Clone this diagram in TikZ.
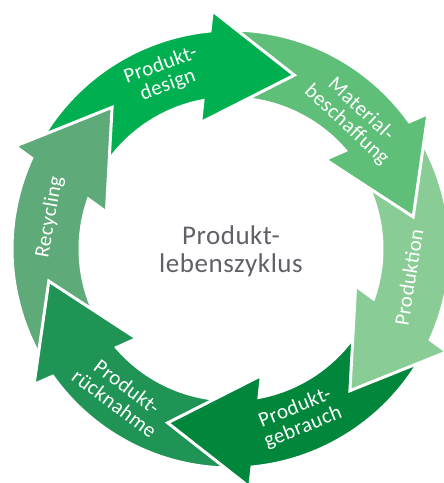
\documentclass[tikz,border=0pt]{standalone}
\usepackage{fontspec}
\setmainfont{Carlito}
\newfontfamily\lblfont[LetterSpace=2]{Carlito}
\definecolor{cA}{HTML}{00B050}
\definecolor{cB}{HTML}{5FBF78}
\definecolor{cC}{HTML}{8ACC96}
\definecolor{cD}{HTML}{00873C}
\definecolor{cE}{HTML}{1F9455}
\definecolor{cF}{HTML}{5EAA78}
\definecolor{titlegray}{HTML}{606068}
\newcommand\cycarrow[1]{({#1+80}:219) arc[start angle={#1+80}, end angle={#1+25.5}, radius=219] -- ({#1+24.5}:239) -- (#1:185) -- ({#1+33.5}:130) -- ({#1+30.7}:151) arc[start angle={#1+30.7}, end angle={#1+85}, radius=151] -- cycle}
\begin{document}
\begin{tikzpicture}[x=1pt,y=1pt,
  arr/.style={draw=white, line width=3pt, line join=miter},
  lbl/.style={text=white, font=\lblfont\fontsize{21}{21}\selectfont, align=center, inner sep=0pt},
  ttl/.style={text=titlegray, font=\lblfont\fontsize{27}{28}\selectfont, align=center, inner sep=0pt}]
\useasboundingbox (0,0) rectangle (444,-483);
\clip (0,0) rectangle (444,-483);
\begin{scope}[shift={(231,-249)}]
  \path[fill=cF, arr] \cycarrow{130};
  \path[fill=cE, arr] \cycarrow{-170};
  \path[fill=cD, arr] \cycarrow{-110};
  \path[fill=cC, arr] \cycarrow{-50};
  \path[fill=cB, arr] \cycarrow{10};
  \path[fill=cA, arr] \cycarrow{70};
  \begin{scope}
    \clip (0,0) -- (172:400) arc[start angle=172, end angle=122, radius=400] -- cycle;
    \path[fill=cF, arr] \cycarrow{130};
  \end{scope}
  \node[lbl, rotate=20] (l1) at (111:186) {Produkt-\\design};
  \node[lbl, rotate=-43] (l2) at (47:180) {Material-\\beschaffung};
  \node[lbl, rotate=81] (l3) at (-9:180) {Produktion};
  \node[lbl, rotate=22] (l4) at (-68:182) {Produkt-\\gebrauch};
  \node[lbl, rotate=-37] (l5) at (233:183) {Produkt-\\rücknahme};
  \node[lbl, rotate=80] (l6) at (170:184) {Recycling};
  \node[ttl] (title) at (0,-2) {Produkt-\\lebenszyklus};
\end{scope}
\end{tikzpicture}
\end{document}
